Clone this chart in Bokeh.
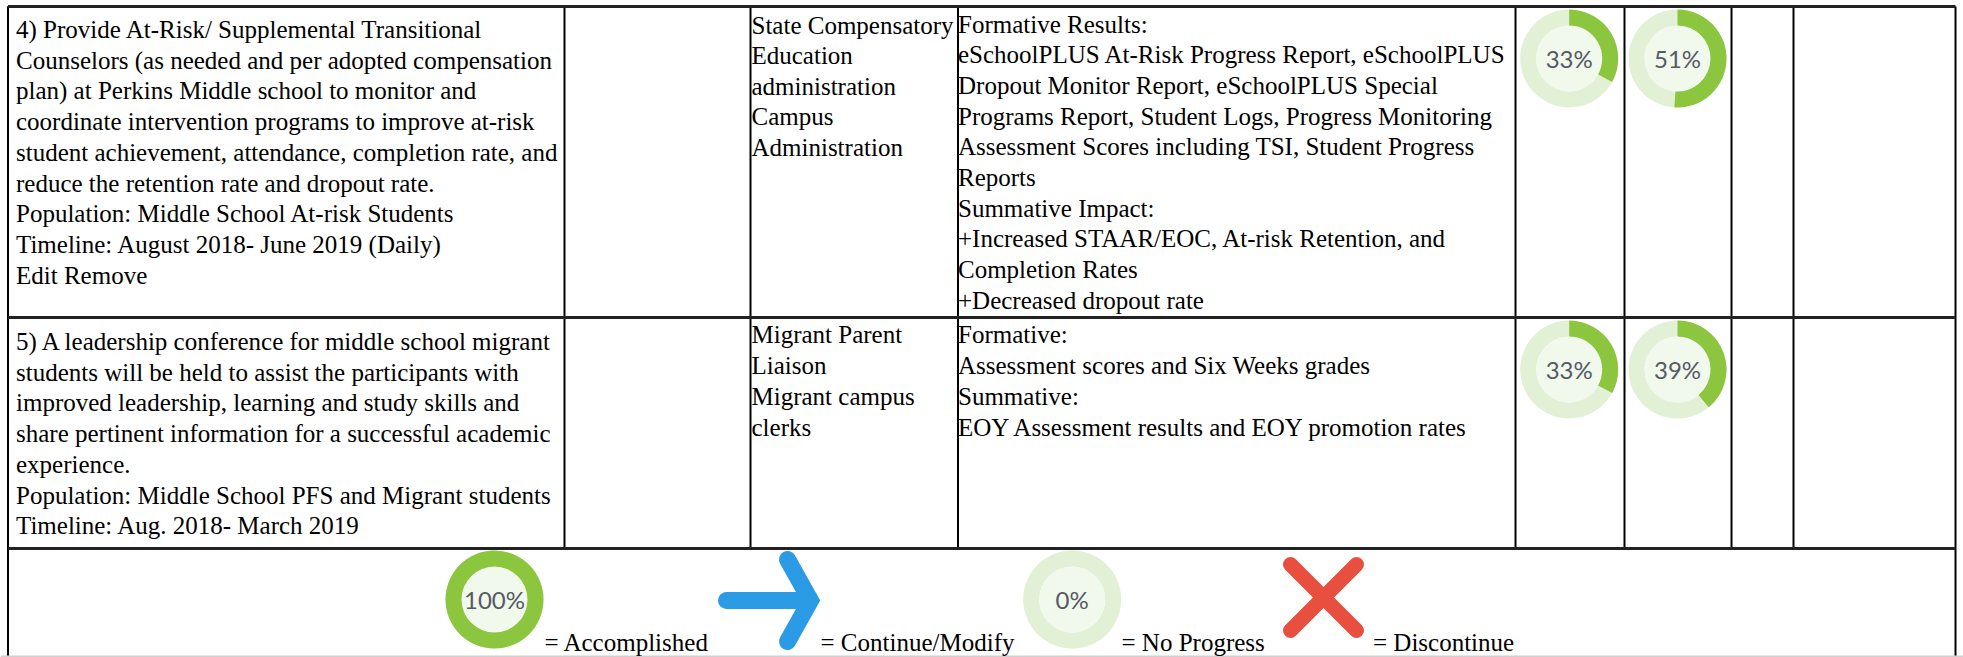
from math import pi
from bokeh.plotting import figure
from bokeh.models import Range1d
from bokeh.core.properties import value
from bokeh.embed import file_html
from bokeh.resources import INLINE

W, H = 1963, 657

# ---- content ----
row4_action = ["4) Provide At-Risk/ Supplemental Transitional",
               "Counselors (as needed and per adopted compensation",
               "plan) at Perkins Middle school to monitor and",
               "coordinate intervention programs to improve at-risk",
               "student achievement, attendance, completion rate, and",
               "reduce the retention rate and dropout rate.",
               "Population: Middle School At-risk Students",
               "Timeline: August 2018- June 2019 (Daily)",
               "Edit Remove"]
row4_staff = ["State Compensatory", "Education", "administration", "Campus", "Administration"]
row4_eval = ["Formative Results:",
             "eSchoolPLUS At-Risk Progress Report, eSchoolPLUS",
             "Dropout Monitor Report, eSchoolPLUS Special",
             "Programs Report, Student Logs, Progress Monitoring",
             "Assessment Scores including TSI, Student Progress",
             "Reports",
             "Summative Impact:",
             "+Increased STAAR/EOC, At-risk Retention, and",
             "Completion Rates",
             "+Decreased dropout rate"]
row5_action = ["5) A leadership conference for middle school migrant",
               "students will be held to assist the participants with",
               "improved leadership, learning and study skills and",
               "share pertinent information for a successful academic",
               "experience.",
               "Population: Middle School PFS and Migrant students",
               "Timeline: Aug. 2018- March 2019"]
row5_staff = ["Migrant Parent", "Liaison", "Migrant campus", "clerks"]
row5_eval = ["Formative:",
             "Assessment scores and Six Weeks grades",
             "Summative:",
             "EOY Assessment results and EOY promotion rates"]
row4_progress = [33, 51]
row5_progress = [33, 39]
legend_progress = [100, 0]
legend_labels = ["= Accomplished", "= Continue/Modify", "= No Progress", "= Discontinue"]

# ---- page geometry (pixels from the top-left) ----
col_x = [7.5, 564, 750, 957.5, 1515, 1624, 1731, 1793, 1955]
row_y = [6, 317, 548]
BOTTOM = 655.5
SERIF = value("Liberation Serif")
FS = "25px"
GREEN, PALE, INNER = "#8BC63E", "#E2F0D6", "#F1F8EC"

p = figure(width=W, height=H, x_range=Range1d(0, W), y_range=Range1d(0, H),
           toolbar_location=None, output_backend="svg", min_border=0,
           outline_line_color=None, background_fill_color="white")
p.axis.visible = False
p.grid.visible = False
p.styles = {"position": "absolute", "left": "0", "top": "0"}
Y = lambda y: H - y

# ---- rules ----
p.segment(col_x[:-1], [Y(row_y[0])] * 8, col_x[:-1], [Y(row_y[2])] * 8, line_color="#000000", line_width=2)
p.segment([col_x[0], col_x[-1]], [Y(row_y[0])] * 2, [col_x[0], col_x[-1]], [Y(BOTTOM)] * 2,
          line_color="#000000", line_width=2)
p.segment([col_x[0]] * 3, [Y(v) for v in row_y], [col_x[-1]] * 3, [Y(v) for v in row_y],
          line_color="#222222", line_width=3)
p.segment([0], [Y(656)], [W], [Y(656)], line_color="#D0D0D0", line_width=2)

# ---- text blocks ----
def block(lines, x, y0, step):
    p.text([x] * len(lines), [Y(y0 + i * step) for i in range(len(lines))], text=lines,
           text_font=SERIF, text_font_size=FS, text_color="#000000",
           text_align="left", text_baseline="middle")

block(row4_action, 15.5, 29, 30.7)
block(row4_staff, 751, 24.5, 30.6)
block(row4_eval, 957.5, 23.5, 30.7)
block(row5_action, 15.5, 341, 30.7)
block(row5_staff, 751, 334, 31)
block(row5_eval, 957.5, 334, 31)

# ---- progress rings ----
def ring(pct, cx, cy):
    p.annular_wedge([cx], [Y(cy)], inner_radius=33, outer_radius=49,
                    inner_radius_units="screen", outer_radius_units="screen",
                    start_angle=0, end_angle=2 * pi, fill_color=PALE, line_color=None)
    p.circle([cx], [Y(cy)], radius=33, radius_units="screen", fill_color=INNER, line_color=None)
    if pct > 0:
        end = pi / 2
        start = pi / 2 - 2 * pi * pct / 100
        p.annular_wedge([cx], [Y(cy)], inner_radius=33, outer_radius=49,
                        inner_radius_units="screen", outer_radius_units="screen",
                        start_angle=start, end_angle=end, direction="anticlock",
                        fill_color=GREEN, line_color=None)
    p.text([cx], [Y(cy - 0.5)], text=[f"{pct}%"], text_font=value("Lato"), text_font_size="24px",
           text_color="#555B66", text_align="center", text_baseline="middle")

for pct, cx in zip(row4_progress, [1568.7, 1677]):
    ring(pct, cx, 58)
for pct, cx in zip(row5_progress, [1568.7, 1677]):
    ring(pct, cx, 369)
for pct, cx in zip(legend_progress, [494, 1071.7]):
    ring(pct, cx, 599)

# ---- arrow icon ----
ax, ay = 787, 600
BLUE = "#2B9BE5"
p.line([ax - 61, ax + 22], [Y(ay)] * 2, line_color=BLUE, line_width=17, line_cap="round")
p.line([ax, ax + 23, ax], [Y(ay - 41), Y(ay), Y(ay + 41)], line_color=BLUE, line_width=17,
       line_cap="round", line_join="miter")

# ---- cross icon ----
xc, yc, xr = 1323, 597, 33
RED = "#E94F3F"
p.multi_line([[xc - xr, xc + xr], [xc - xr, xc + xr]],
             [[Y(yc - xr), Y(yc + xr)], [Y(yc + xr), Y(yc - xr)]],
             line_color=RED, line_width=15, line_cap="round")

# ---- legend labels ----
p.text([544, 820, 1121, 1372.5], [Y(642)] * 4, text=legend_labels, text_font=SERIF, text_font_size=FS,
       text_color="#000000", text_align="left", text_baseline="middle")

open("out.html", "w").write(file_html(p, INLINE))
